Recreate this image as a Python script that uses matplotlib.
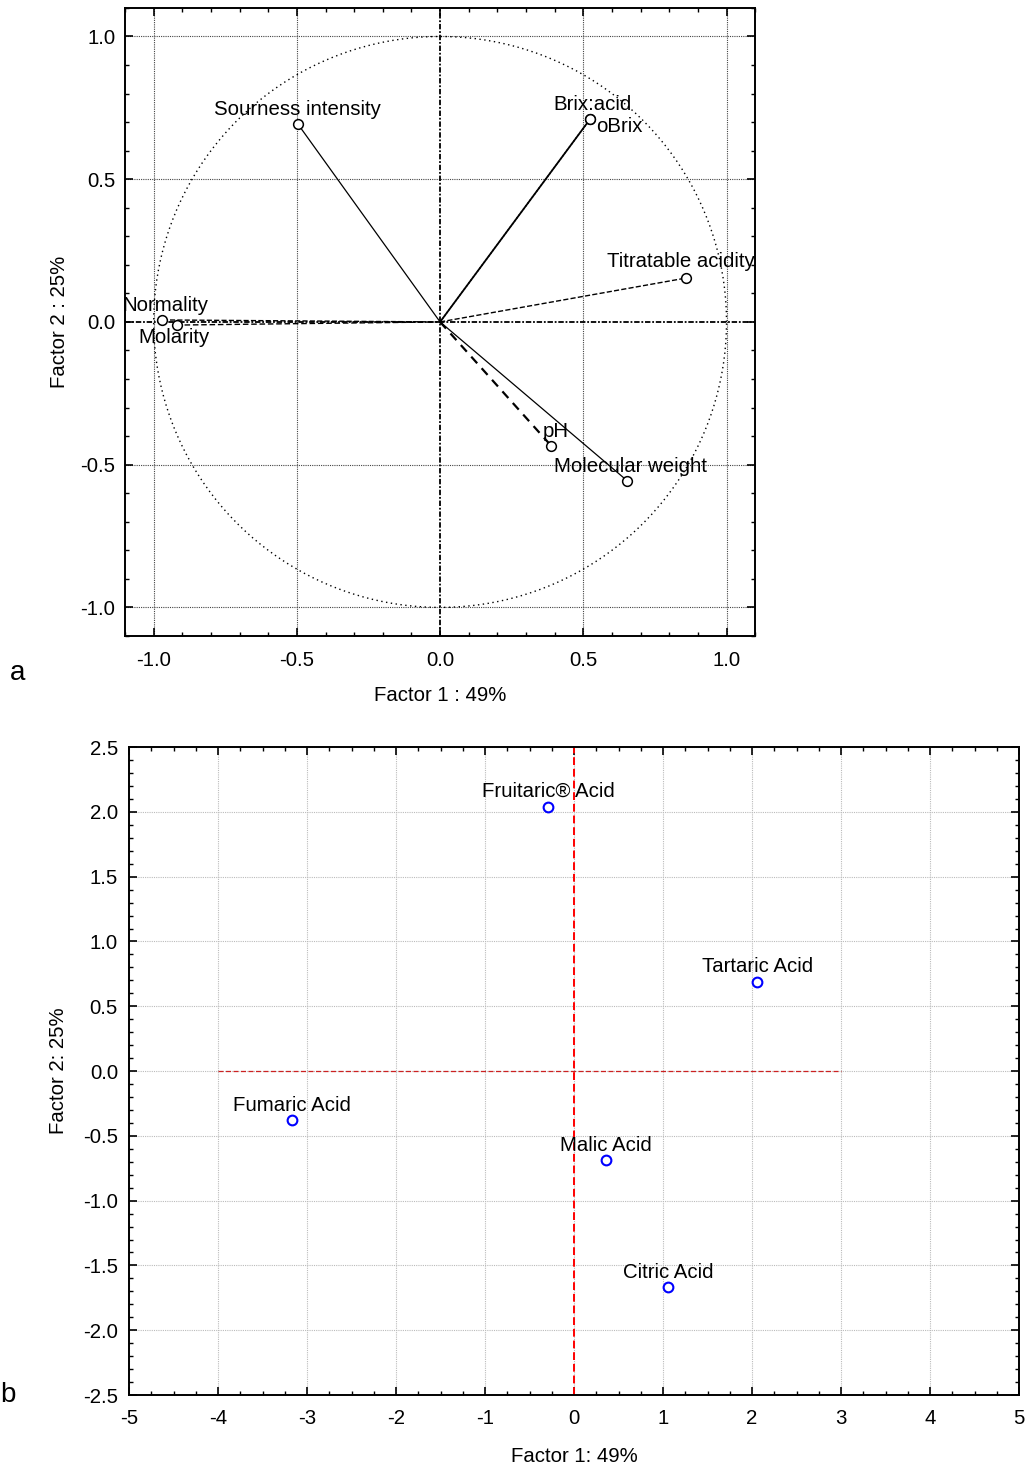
import numpy as np
import matplotlib.pyplot as plt
from matplotlib.ticker import MultipleLocator

plt.rcParams['font.family'] = ['Liberation Sans', 'DejaVu Sans']
plt.rcParams['font.size'] = 14.7
plt.rcParams['axes.unicode_minus'] = False

# panel a: variable loadings
var_names = ['Sourness intensity', 'Brix:acid', 'oBrix', 'Titratable acidity',
             'Normality', 'Molarity', 'pH', 'Molecular weight']
load_f1 = [-0.497, 0.524, 0.524, 0.860, -0.972, -0.920, 0.388, 0.654]
load_f2 = [0.694, 0.711, 0.711, 0.154, 0.007, -0.011, -0.434, -0.557]

# panel b: case scores
acid_names = ['Fruitaric® Acid', 'Tartaric Acid', 'Fumaric Acid', 'Malic Acid', 'Citric Acid']
score_f1 = [-0.29, 2.06, -3.17, 0.36, 1.06]
score_f2 = [2.04, 0.69, -0.38, -0.69, -1.67]
ref_line_x = [-4, 3]

# line style per variable and label offsets (points)
line_styles = ['-', '-', ':', '--', '--', (0, (4, 2)), (0, (4, 3)), '-']
line_widths = [0.9, 1.3, 1.0, 1.0, 1.0, 1.0, 1.6, 0.9]
lab_off = [(0, 10, 'center'), (2, 10.5, 'center'), (4, -5.5, 'left'), (-4, 12, 'center'),
           (3, 10.5, 'center'), (-2, -9, 'center'), (3, 10.5, 'center'), (2, 10.5, 'center')]

fig = plt.figure(figsize=(10.28, 14.66), dpi=100)

# ---- panel a
ax1 = fig.add_axes([0.1216, 0.5662, 0.613, 0.4284])
ax1.set_xlim(-1.1, 1.1)
ax1.set_ylim(-1.1, 1.1)
for v in [-1.0, -0.5, 0.5, 1.0]:
    ax1.axvline(v, color='#444444', lw=0.8, ls=(0, (1, 1)), zorder=0)
    ax1.axhline(v, color='#444444', lw=0.8, ls=(0, (1, 1)), zorder=0)
ax1.axvline(0, color='black', lw=1.3, ls=(0, (3, 1, 1, 1)), zorder=1)
ax1.axhline(0, color='black', lw=1.3, ls=(0, (3, 1, 1, 1)), zorder=1)
t = np.linspace(0, 2 * np.pi, 400)
ax1.plot(np.cos(t), np.sin(t), color='black', lw=1.0, ls=(0, (1, 2.5)))

for i, name in enumerate(var_names):
    ax1.plot([0, load_f1[i]], [0, load_f2[i]], color='black', lw=line_widths[i], ls=line_styles[i])
    ax1.plot(load_f1[i], load_f2[i], 'o', mfc='white', mec='black', ms=7, mew=1.1, zorder=5)
    dx, dy, ha = lab_off[i]
    ax1.annotate(name, (load_f1[i], load_f2[i]), xytext=(dx, dy), textcoords='offset points',
                 ha=ha, va='center', zorder=6)

ax1.xaxis.set_major_locator(MultipleLocator(0.5))
ax1.yaxis.set_major_locator(MultipleLocator(0.5))
ax1.xaxis.set_minor_locator(MultipleLocator(0.1))
ax1.yaxis.set_minor_locator(MultipleLocator(0.1))
ax1.xaxis.set_major_formatter(lambda v, p: f'{v:.1f}')
ax1.yaxis.set_major_formatter(lambda v, p: f'{v:.1f}')
ax1.tick_params(which='both', direction='in', top=True, right=True)
ax1.tick_params(which='major', length=6, width=1.2)
ax1.tick_params(which='minor', length=3, width=1.0)
ax1.tick_params(axis='x', which='major', pad=10.5)
ax1.tick_params(axis='y', which='major', pad=7)
for s in ax1.spines.values():
    s.set_linewidth(1.4)
ax1.set_xlabel('Factor 1 : 49%', labelpad=12)
ax1.set_ylabel('Factor 2 : 25%', labelpad=8)
fig.text(0.0175, 0.541, 'a', fontsize=20, va='center', ha='center')

# ---- panel b
ax2 = fig.add_axes([0.1255, 0.0484, 0.8658, 0.442])
ax2.set_xlim(-5, 5)
ax2.set_ylim(-2.5, 2.5)
ax2.xaxis.set_major_locator(MultipleLocator(1))
ax2.yaxis.set_major_locator(MultipleLocator(0.5))
ax2.xaxis.set_minor_locator(MultipleLocator(0.25))
ax2.yaxis.set_minor_locator(MultipleLocator(0.1))
ax2.yaxis.set_major_formatter(lambda v, p: f'{v:.1f}')
ax2.grid(True, which='major', color='#bbbbbb', lw=0.8, ls=(0, (1, 1)))
ax2.set_axisbelow(True)
ax2.plot(ref_line_x, [0, 0], color='#cc2222', lw=0.9, ls=(0, (4, 2)))
ax2.axvline(0, color='red', lw=1.4, ls=(0, (4, 2)))
ax2.plot(score_f1, score_f2, 'o', mfc='none', mec='blue', ms=7, mew=1.5, ls='none', zorder=5)
for i, name in enumerate(acid_names):
    ax2.annotate(name, (score_f1[i], score_f2[i]), xytext=(0, 11), textcoords='offset points',
                 ha='center', va='center')
ax2.tick_params(which='both', direction='in', top=True, right=True)
ax2.tick_params(which='major', length=6, width=1.2)
ax2.tick_params(which='minor', length=3, width=1.0)
ax2.tick_params(axis='x', which='major', pad=10)
ax2.tick_params(axis='y', which='major', pad=8)
for s in ax2.spines.values():
    s.set_linewidth(1.4)
ax2.set_xlabel('Factor 1: 49%', labelpad=13.5)
ax2.set_ylabel('Factor 2: 25%', labelpad=10.5)
fig.text(0.0, 0.0484, 'b', fontsize=20, va='center', ha='left')

fig.savefig('out.png', dpi=100)
